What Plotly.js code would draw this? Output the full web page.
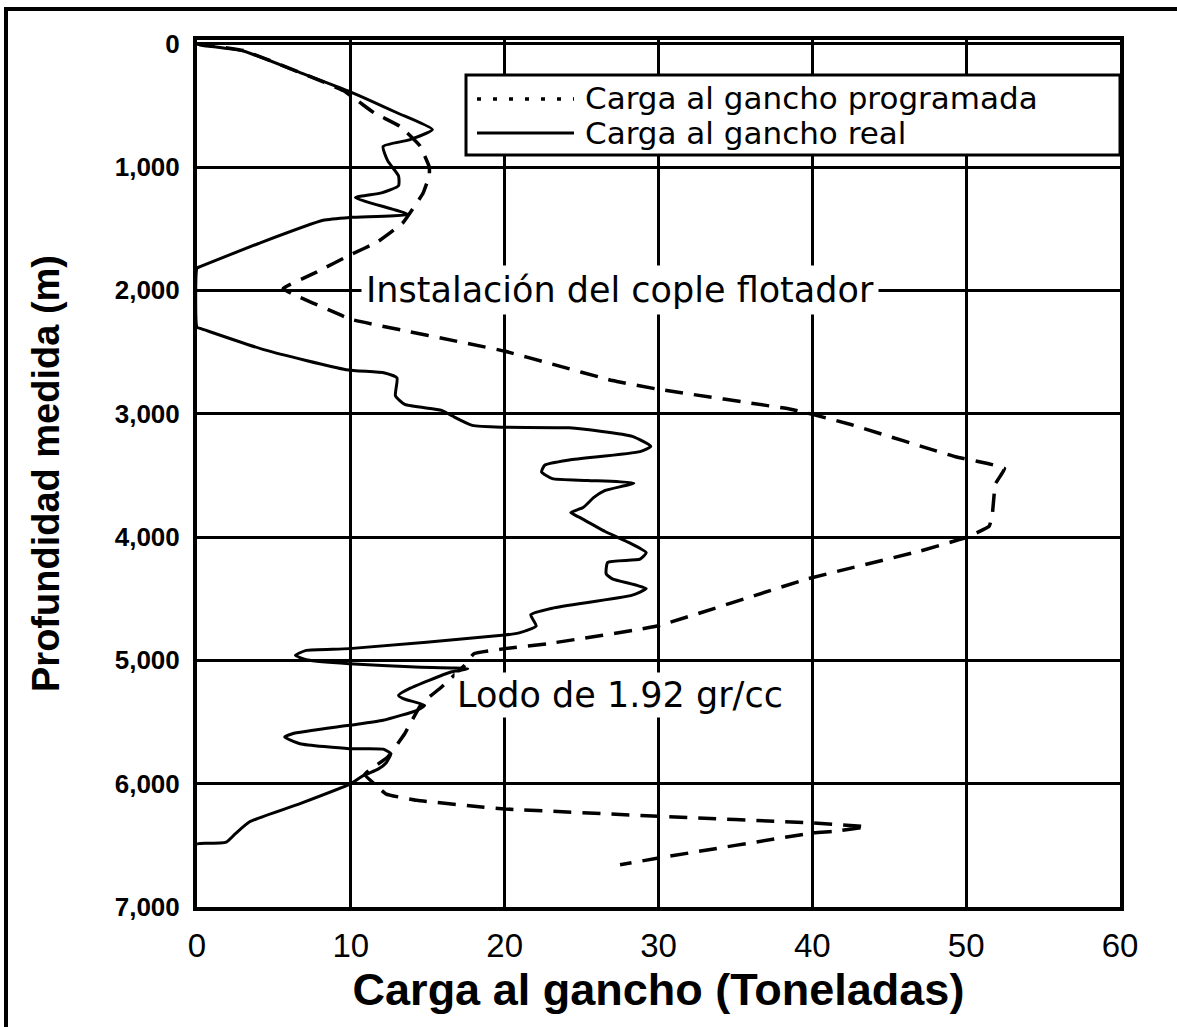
<!DOCTYPE html>
<html>
<head>
<meta charset="utf-8">
<script src="https://cdn.plot.ly/plotly-3.0.1.min.js"></script>
<style>
html,body{margin:0;padding:0;background:#fff;}
body{position:relative;width:1177px;height:1027px;overflow:hidden;}
#chart{width:1177px;height:1027px;}
#frame{position:absolute;left:4px;top:7px;width:1300px;height:1200px;border-top:4px solid #000;border-left:4px solid #000;pointer-events:none;}
</style>
</head>
<body>
<div id="chart"></div>
<div id="frame"></div>
<script>
// ---- data ----
const seriesNames = ['Carga al gancho programada', 'Carga al gancho real'];

const realLoad  = [0,0.2,3,6.5,10,13,15.3,13.8,12.1,12.4,13.1,13.1,12,10.3,13.7,10,8.2,4,0.2,0,0,0.2,4.4,9.7,12.2,13,12.9,13.5,15.9,16.6,17.9,20,24.2,28.3,29.5,28.8,24.2,22.6,22.4,23.1,25.4,28.4,26.5,25.8,25.1,24.3,24.9,26.5,27.9,29.2,28.8,26.7,26.6,27,29.2,28.3,23.1,21.7,22.05,21,20,9.9,7.1,6.4,7.1,9.9,14.2,17.6,16.5,13.8,13.1,13.4,14.8,14.3,12.1,9.9,6.2,5.7,6.7,9.9,12.1,12.6,12.3,11.8,10.8,10,6.7,3.4,2.5,1.9,0.1,0];
const realDepth = [0,10,59,225,392,560,696,780,833,950,1072,1152,1210,1248,1384,1408,1432,1620,1808,1820,2300,2308,2483,2643,2670,2710,2855,2925,2973,3019,3095,3110,3115,3184,3266,3308,3376,3418,3473,3527,3541,3563,3624,3679,3761,3802,3843,3953,4034,4127,4180,4206,4299,4339,4418,4471,4577,4630,4722,4775,4795,4905,4919,4959,4995,5027,5054,5068,5095,5230,5284,5311,5365,5405,5486,5527,5595,5622,5676,5716,5720,5757,5830,5880,5935,6000,6162,6311,6405,6473,6486,6490];

const progLoad  = [0,3,9.5,11.5,13.2,14.5,15.1,15.1,14.7,13.4,11.7,10,7.8,5.6,6.2,8.8,10,19.9,23,27,29.9,38.6,40,42.5,49.3,51.4,52.5,51.9,51.7,51.5,50.2,47,39.7,29.9,22.8,20,18,17.4,15.9,14.6,13.5,12.4,10.9,11.6,12.3,14.3,18.5,20,30,40,43.5,41.4,40,30,27.5];
const progDepth = [0,55,380,560,670,830,1000,1070,1210,1450,1610,1710,1850,1985,2030,2170,2235,2490,2595,2731,2800,2964,3005,3088,3349,3404,3445,3569,3816,3912,3995,4114,4339,4722,4865,4905,4946,5040,5216,5351,5595,5784,5925,6010,6085,6135,6189,6205,6264,6318,6350,6386,6400,6603,6658];

const xTicks = [0,10,20,30,40,50,60];
const yTicks = [0,1000,2000,3000,4000,5000,6000,7000];

const xTitle = 'Carga al gancho (Toneladas)';
const yTitle = 'Profundidad medida (m)';
const noteFloat = 'Instalación del cople flotador';
const noteMud = 'Lodo de 1.92 gr/cc';

// ---- layout helpers (pixel -> paper) ----
const W = 1177, H = 1027;
const M = {l:197, r:57, t:40, b:120};
const pw = W - M.l - M.r, ph = H - M.t - M.b;
const px = x => (x - M.l) / pw;
const py = y => (H - M.b - y) / ph;

const traces = [
  {x: progLoad, y: progDepth, name: seriesNames[0], type:'scatter', mode:'lines',
   line:{color:'#000', width:3.5, dash:'18px,11px', shape:'spline', smoothing:0.3}, showlegend:false},
  {x: realLoad, y: realDepth, name: seriesNames[1], type:'scatter', mode:'lines',
   line:{color:'#000', width:3, shape:'spline', smoothing:0.5}, showlegend:false}
];

const layout = {
  width: W, height: H,
  margin: M,
  paper_bgcolor:'#fff', plot_bgcolor:'#fff',
  showlegend:false,
  xaxis:{
    range:[0,60], tickvals:xTicks, showgrid:true, gridcolor:'#000', gridwidth:3,
    zeroline:false, showline:true, mirror:true, linecolor:'#000', linewidth:4,
    ticks:'', ticklabelstandoff:6,
    tickfont:{family:'Liberation Sans Narrow, Arial Narrow, Liberation Sans, Arial', size:33, color:'#000'},
    title:{text:xTitle, standoff:0, font:{family:'Liberation Sans, Arial', size:45, color:'#000', weight:'bold'}}
  },
  yaxis:{
    range:[7000,-30], tickvals:yTicks, tickformat:',', showgrid:true, gridcolor:'#000', gridwidth:3,
    zeroline:false, showline:true, mirror:true, linecolor:'#000', linewidth:4,
    ticks:'', ticklabelstandoff:8,
    tickfont:{family:'Liberation Sans, Arial', size:26, color:'#000', weight:'bold'},
    title:{text:yTitle, standoff:44, font:{family:'Liberation Sans, Arial', size:38, color:'#000', weight:'bold'}}
  },
  shapes:[
    {type:'rect', xref:'paper', yref:'paper', x0:px(466), x1:1, y0:py(155), y1:py(75),
     fillcolor:'#fff', line:{color:'#000', width:3}, layer:'above'},
    {type:'line', xref:'paper', yref:'paper', x0:px(477), x1:px(574), y0:py(99), y1:py(99),
     line:{color:'#000', width:3.5, dash:'4px,12px'}, layer:'above'},
    {type:'line', xref:'paper', yref:'paper', x0:px(477), x1:px(574), y0:py(133), y1:py(133),
     line:{color:'#000', width:3}, layer:'above'}
  ],
  annotations:[
    {xref:'paper', yref:'paper', x:px(583), y:py(98), xanchor:'left', yanchor:'middle', showarrow:false,
     text:seriesNames[0], font:{family:'DejaVu Sans', size:31, color:'#000'}},
    {xref:'paper', yref:'paper', x:px(583), y:py(133), xanchor:'left', yanchor:'middle', showarrow:false,
     text:seriesNames[1], font:{family:'DejaVu Sans', size:31, color:'#000'}},
    {xref:'x', yref:'y', x:27.5, y:2000, xanchor:'center', yanchor:'middle', showarrow:false,
     text:noteFloat, bgcolor:'#fff', borderpad:4, font:{family:'DejaVu Sans', size:35, color:'#000'}},
    {xref:'x', yref:'y', x:27.5, y:5280, xanchor:'center', yanchor:'middle', showarrow:false,
     text:noteMud, bgcolor:'#fff', borderpad:2, font:{family:'DejaVu Sans', size:35, color:'#000'}}
  ]
};

Plotly.newPlot('chart', traces, layout, {displayModeBar:false, staticPlot:true});
</script>
</body>
</html>
